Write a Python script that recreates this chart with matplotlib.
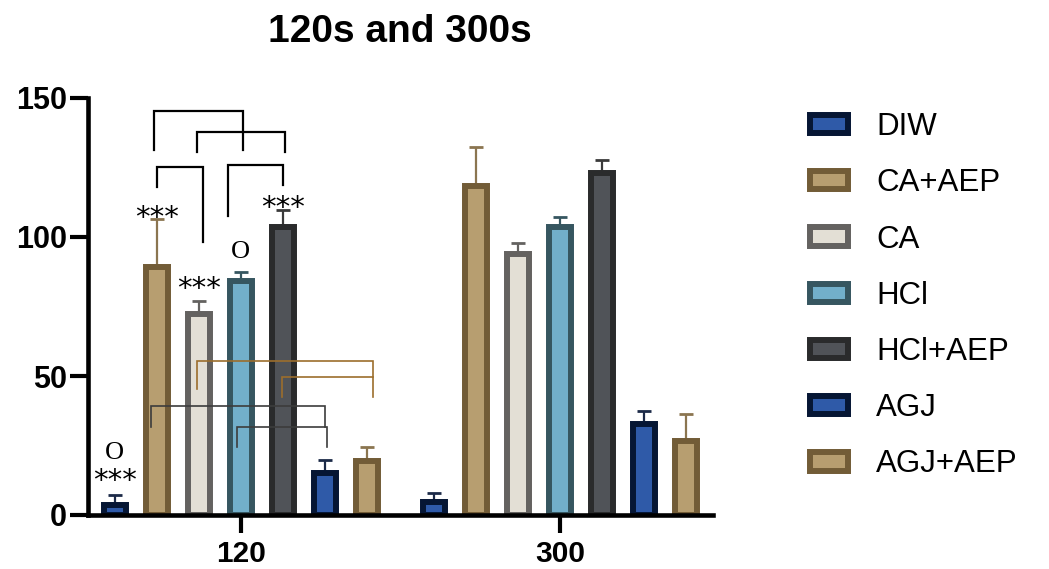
import matplotlib
matplotlib.use("Agg")

import matplotlib.pyplot as plt
import numpy as np

# values
groups = ["120", "300"]
series = ["DIW", "CA+AEP", "CA", "HCl", "HCl+AEP", "AGJ", "AGJ+AEP"]
means_120 = [3.7, 89.3, 72.4, 84.0, 103.7, 15.2, 19.3]
means_300 = [4.6, 118.3, 94.0, 103.7, 123.1, 32.9, 26.6]
err_120 = [3.5, 17.2, 4.6, 3.4, 6.0, 4.6, 5.3]
err_300 = [3.4, 14.0, 4.0, 3.6, 4.7, 4.5, 9.6]

face = ["#2f5aa8", "#b79e70", "#e3dfd5", "#72afca", "#505358", "#2f5aa8", "#b79e70"]
edge = ["#061634", "#725c37", "#646260", "#365660", "#2a2b2c", "#061634", "#725c37"]
errc = ["#1c2a48", "#8b7550", "#646260", "#365660", "#3a3a3a", "#1c2a48", "#8b7550"]

# significance marks on the 120 s group: (bar index, text, y)
marks = [(0, "***", 14.4), (0, "O", 22.2), (1, "***", 109.0),
         (2, "***", 83.3), (3, "O", 94.5), (4, "***", 112.3)]

# brackets on the 120 s group: (left bar, right bar, top, left foot, right foot, dx_l, dx_r, colour)
brackets = [
    (1, 3, 145.4, 131.3, 131.3, -0.07, 0.05, "black"),
    (2, 4, 137.9, 130.7, 130.7, -0.04, 0.05, "black"),
    (1, 2, 125.1, 117.9, 98.3, 0.0, 0.09, "black"),
    (3, 4, 125.9, 107.6, 118.7, -0.3, 0.0, "black"),
    (2, 6, 55.5, 45.2, 49.5, -0.04, 0.14, "#9c6e2c"),
    (4, 6, 49.5, 42.3, 42.3, -0.01, 0.14, "#9c6e2c"),
    (1, 5, 39.2, 31.8, 31.8, -0.13, 0.0, "#3c3c3c"),
    (3, 5, 31.8, 24.4, 24.4, -0.1, 0.04, "#3c3c3c"),
]

plt.rcParams["font.family"] = ["Liberation Sans", "DejaVu Sans"]

fig = plt.figure(figsize=(10.49, 5.69), dpi=100)
ax = fig.add_axes([88 / 1049, 54 / 569, 625 / 1049, 417 / 569])

group_gap = 7.6
centers = np.arange(len(groups)) * group_gap
offsets = np.arange(len(series)) - 3
width = 0.524
cap = 0.33

all_means = [means_120, means_300]
all_errs = [err_120, err_300]
for i, name in enumerate(series):
    xs = centers + offsets[i]
    ys = np.array([m[i] for m in all_means])
    es = np.array([e[i] for e in all_errs])
    # upper error only, drawn behind the bar
    ax.vlines(xs, ys, ys + es, color=errc[i], lw=1.6, zorder=1)
    ax.hlines(ys + es, xs - cap / 2, xs + cap / 2, color=errc[i], lw=2.0, zorder=1)
    ax.bar(xs, ys, width=width, color=face[i], edgecolor=edge[i],
           linewidth=4.3, label=name, zorder=2)

for bar, txt, y in marks:
    x = centers[0] + offsets[bar]
    if txt == "O":
        ax.text(x, y, txt, ha="center", va="center", fontsize=19,
                family="Liberation Serif", zorder=4)
    else:
        ax.text(x, y - 2.0, txt, ha="center", va="center", fontsize=21,
                family="DejaVu Sans", zorder=4)

for lb, rb, top, lf, rf, dl, dr, col in brackets:
    xl = centers[0] + offsets[lb] + dl
    xr = centers[0] + offsets[rb] + dr
    lw = 1.6 if col == "black" else 1.2
    ax.plot([xl, xl, xr, xr], [lf, top, top, rf], color=col, lw=lw,
            solid_joinstyle="miter", zorder=3, clip_on=False)

ax.set_xlim(-3.64, group_gap + 3.64)
ax.set_ylim(0, 150)
ax.set_yticks([0, 50, 100, 150])
ax.set_xticks(centers)
ax.set_xticklabels(groups)

for s in ["top", "right"]:
    ax.spines[s].set_visible(False)
for s in ["left", "bottom"]:
    ax.spines[s].set_linewidth(3.3)
ax.tick_params(axis="both", width=3.0, length=13)
ax.tick_params(axis="y", labelsize=22, pad=2)
ax.tick_params(axis="x", labelsize=21.5, pad=5)
for lab in ax.get_xticklabels() + ax.get_yticklabels():
    lab.set_fontweight("bold")

fig.text(400 / 1049, 1 - 32 / 569, "120s and 300s", ha="center", va="center",
         fontsize=28, fontweight="bold")

fig.legend(loc="upper left", bbox_to_anchor=(810 / 1049, 1 - 112 / 569),
           frameon=False, fontsize=22.5, handlelength=1.23, handleheight=0.52,
           handletextpad=0.88, labelspacing=0.84, borderaxespad=0, borderpad=0)

fig.savefig("out.png", dpi=100)
